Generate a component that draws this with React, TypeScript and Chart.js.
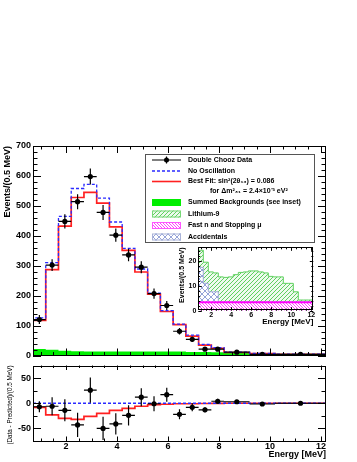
import React, { useEffect, useRef } from 'react';
import { Chart, registerables } from 'chart.js';
Chart.register(...registerables);

const FONT = '"Liberation Sans", Arial, Helvetica, sans-serif';

// ---- main spectrum (Events / 0.5 MeV) ----
const binEdges = [0.7, 1.2, 1.7, 2.2, 2.7, 3.2, 3.7, 4.2, 4.7, 5.2, 5.7, 6.2, 6.7, 7.2, 7.7, 8.2, 9.2, 10.2, 12.2];
const dataValues = [120, 302, 448, 514, 598, 478, 402, 336, 295, 207, 167, 81, 54, 21, 21, 11, 4, 4];
const dataErrors = [15, 20, 24, 25, 27, 25, 22, 21, 20, 17, 15, 11, 9, 6, 6, 4, 3, 2];
const noOscillation = [126, 310, 465, 558, 572, 526, 446, 358, 289, 208, 150, 105, 68, 37, 26, 11, 7, 4.5];
const bestFit = [117, 287, 432, 528, 545, 509, 430, 351, 279, 205, 147, 103, 65, 35, 24, 10, 6.6, 4];
const summedBackgrounds = [22, 19, 16, 14, 13, 13, 13, 13, 13, 13, 13, 13, 12, 12, 11, 10, 8, 6];

// ---- residuals ----
const residuals = [-7, -6, -14, -43, 26, -50, -41, -24, 12, -1, 17, -22, -8, -13, 4, 3, -1.5, 0];
const residualErrors = [11, 18, 22, 24, 25, 23, 21, 20, 18, 15, 14, 10, 8, 5, 5, 3, 2, 2];
const bestFitResidual = [-8, -23, -30, -32, -26, -20, -14, -10, -6, -3, -2, -1, -1, -0.5, -0.3, 0, 0, 0];

// ---- inset backgrounds ----
const insetEdges = [0.7, 1.2, 1.7, 2.2, 2.7, 3.2, 3.7, 4.2, 4.7, 5.2, 5.7, 6.2, 6.7, 7.2, 7.7, 8.2, 8.7, 9.2, 9.7, 10.2, 10.7, 11.2, 11.7, 12.2];
const fastNeutrons = [3.4, 3.4, 3.4, 3.4, 3.4, 3.4, 3.4, 3.4, 3.4, 3.4, 3.4, 3.4, 3.4, 3.4, 3.4, 3.4, 3.4, 3.4, 3.4, 3.4, 3.4, 3.4, 3.4];
const accidentals = [14, 7.6, 4.2, 4.2, 0, 0, 0, 0, 0, 0, 0, 0, 0, 0, 0, 0, 0, 0, 0, 0, 0, 0, 0];
const lithium9 = [6.9, 8.5, 8.0, 7.6, 10.2, 10.0, 10.2, 11.1, 12.0, 12.2, 12.6, 12.6, 12.2, 11.8, 10.4, 10.2, 10.2, 7.6, 7.6, 4.2, 0.9, 0.9, 0.9];

// ---- axis ticks ----
const energyTicks = [2, 4, 6, 8, 10, 12];
const mainYTicks = [0, 100, 200, 300, 400, 500, 600, 700];
const residualYTicks = [-50, 0, 50];
const insetYTicks = [0, 10, 20];

const binCenters = binEdges.slice(0, -1).map((e, i) => (e + binEdges[i + 1]) / 2);

function stepPoints(edges: number[], values: number[], fromZero = false) {
  const pts: { x: number; y: number }[] = [];
  if (fromZero) pts.push({ x: edges[0], y: 0 });
  values.forEach((v, i) => pts.push({ x: edges[i], y: v }));
  pts.push({ x: edges[edges.length - 1], y: values[values.length - 1] });
  return pts;
}

function hatch(kind: string, color: string, size: number, bg = '#fff', lw = 1) {
  const c = document.createElement('canvas');
  c.width = size; c.height = size;
  const g = c.getContext('2d')!;
  g.fillStyle = bg;
  g.fillRect(0, 0, size, size);
  g.strokeStyle = color;
  g.lineWidth = lw;
  g.beginPath();
  if (kind === 'fwd' || kind === 'cross') {
    g.moveTo(-1, size + 1); g.lineTo(size + 1, -1);
    g.moveTo(-1, 1); g.lineTo(1, -1);
    g.moveTo(size - 1, size + 1); g.lineTo(size + 1, size - 1);
  }
  if (kind === 'back' || kind === 'cross') {
    g.moveTo(-1, -1); g.lineTo(size + 1, size + 1);
    g.moveTo(size - 1, -1); g.lineTo(size + 1, 1);
    g.moveTo(-1, size - 1); g.lineTo(1, size + 1);
  }
  g.stroke();
  return g.createPattern(c, 'repeat')!;
}

const ticksOf = (arr: number[]) => (s: any) => { s.ticks = arr.map((v) => ({ value: v })); };

const rootFrame = {
  id: 'rootFrame',
  afterDraw(chart: any, _a: any, o: any) {
    const { ctx, chartArea: a, scales } = chart;
    const xs = scales.x, ys = scales.y;
    const vals = (min: number, max: number, step: number) => {
      const out: number[] = [];
      const k0 = Math.ceil(min / step - 1e-9), k1 = Math.floor(max / step + 1e-9);
      for (let k = k0; k <= k1; k++) out.push(k * step);
      return out;
    };
    const isMajor = (v: number, m: number) => Math.abs(v / m - Math.round(v / m)) < 1e-6;
    ctx.save();
    ctx.strokeStyle = '#000';
    ctx.lineWidth = 1;
    ctx.beginPath();
    for (const v of vals(xs.min, xs.max, o.xMinor)) {
      const len = isMajor(v, o.xMajor) ? o.xMajorLen : o.xMinorLen;
      const px = Math.round(xs.getPixelForValue(v)) + 0.5;
      ctx.moveTo(px, a.bottom); ctx.lineTo(px, a.bottom - len);
      ctx.moveTo(px, a.top); ctx.lineTo(px, a.top + len);
    }
    for (const v of vals(ys.min, ys.max, o.yMinor)) {
      const len = isMajor(v, o.yMajor) ? o.yMajorLen : o.yMinorLen;
      const py = Math.round(ys.getPixelForValue(v)) + 0.5;
      ctx.moveTo(a.left, py); ctx.lineTo(a.left + len, py);
      ctx.moveTo(a.right, py); ctx.lineTo(a.right - len, py);
    }
    ctx.stroke();
    ctx.strokeRect(Math.round(a.left) + 0.5, Math.round(a.top) + 0.5, Math.round(a.right - a.left) - 1, Math.round(a.bottom - a.top) - 1);
    ctx.restore();
  },
};

const whiteArea = {
  id: 'whiteArea',
  beforeDraw(chart: any, _a: any, o: any) {
    if (!o || !o.enabled) return;
    const { ctx, chartArea: a } = chart;
    ctx.save();
    ctx.fillStyle = '#fff';
    ctx.fillRect(a.left, a.top, a.right - a.left, a.bottom - a.top);
    ctx.restore();
  },
};

const errorBars = {
  id: 'errorBars',
  afterDatasetsDraw(chart: any, _a: any, o: any) {
    if (!o || !o.values) return;
    const { ctx, chartArea: a, scales } = chart;
    const x = scales.x, y = scales.y;
    ctx.save();
    ctx.beginPath();
    ctx.rect(a.left, a.top, a.right - a.left, a.bottom - a.top);
    ctx.clip();
    ctx.strokeStyle = '#000';
    ctx.lineWidth = 1.2;
    ctx.beginPath();
    o.values.forEach((v: number, i: number) => {
      const px = x.getPixelForValue(o.centers[i]);
      const py = y.getPixelForValue(v);
      ctx.moveTo(x.getPixelForValue(o.xLow[i]), py);
      ctx.lineTo(x.getPixelForValue(o.xHigh[i]), py);
      ctx.moveTo(px, y.getPixelForValue(v - o.yErr[i]));
      ctx.lineTo(px, y.getPixelForValue(v + o.yErr[i]));
    });
    ctx.stroke();
    ctx.restore();
  },
};

function makeLegend(pats: { li9: CanvasPattern; fast: CanvasPattern; acc: CanvasPattern }) {
  return {
    id: 'rootLegend',
    afterDraw(chart: any) {
      const ctx = chart.ctx as CanvasRenderingContext2D;
      const bx = 145, by = 154, bw = 169, bh = 88;
      ctx.save();
      ctx.fillStyle = '#fff';
      ctx.fillRect(bx, by, bw, bh);
      ctx.strokeStyle = '#555';
      ctx.lineWidth = 1;
      ctx.strokeRect(bx + 0.5, by + 0.5, bw, bh);
      const sx0 = 152, sx1 = 181, tx = 188;
      const rows = [160, 171, 181.5, 191.5, 202.5, 214, 225.5, 237];
      ctx.strokeStyle = '#000';
      ctx.lineWidth = 1.2;
      ctx.beginPath();
      ctx.moveTo(sx0, rows[0]); ctx.lineTo(sx1, rows[0]);
      ctx.moveTo(166.5, rows[0] - 3.5); ctx.lineTo(166.5, rows[0] + 3.5);
      ctx.stroke();
      ctx.fillStyle = '#000';
      ctx.beginPath(); ctx.arc(166.5, rows[0], 2.5, 0, Math.PI * 2); ctx.fill();
      ctx.strokeStyle = '#2a2aff'; ctx.lineWidth = 1.3; ctx.setLineDash([3, 2]);
      ctx.beginPath(); ctx.moveTo(sx0, rows[1]); ctx.lineTo(sx1, rows[1]); ctx.stroke();
      ctx.setLineDash([]);
      ctx.strokeStyle = '#ff2020'; ctx.lineWidth = 1.6;
      ctx.beginPath(); ctx.moveTo(sx0, rows[2]); ctx.lineTo(sx1, rows[2]); ctx.stroke();
      const box = (cy: number, fill: any, stroke: string | null) => {
        ctx.fillStyle = fill;
        ctx.fillRect(sx0, cy - 3.5, sx1 - sx0, 7);
        if (stroke) { ctx.strokeStyle = stroke; ctx.lineWidth = 1; ctx.strokeRect(sx0 + 0.5, cy - 3.5 + 0.5, sx1 - sx0 - 1, 6); }
      };
      box(rows[4], '#00ee00', null);
      box(rows[5], pats.li9, '#77d877');
      box(rows[6], pats.fast, '#ff55ff');
      box(rows[7], pats.acc, '#aab3d8');
      ctx.fillStyle = '#000';
      ctx.font = 'bold 7px ' + FONT;
      ctx.textBaseline = 'middle';
      ctx.textAlign = 'left';
      ctx.fillText('Double Chooz Data', tx, rows[0]);
      ctx.fillText('No Oscillation', tx, rows[1]);
      ctx.fillText('Best Fit: sin\u00b2(2\u03b8\u2081\u2083) = 0.086', tx, rows[2]);
      ctx.fillText('for \u0394m\u00b2\u2083\u2081 = 2.4\u00d710\u207b\u00b3 eV\u00b2', 210, rows[3]);
      ctx.fillText('Summed Backgrounds (see inset)', tx, rows[4]);
      ctx.fillText('Lithium-9', tx, rows[5]);
      ctx.fillText('Fast n and Stopping \u03bc', tx, rows[6]);
      ctx.fillText('Accidentals', tx, rows[7]);
      ctx.restore();
    },
  };
}

const baseOpts = {
  responsive: false,
  maintainAspectRatio: false,
  animation: false as const,
  events: [] as any[],
};
const noGrid = { display: false, drawTicks: false, tickLength: 0 };

export default function App() {
  const topRef = useRef<HTMLCanvasElement>(null);
  const botRef = useRef<HTMLCanvasElement>(null);
  const insRef = useRef<HTMLCanvasElement>(null);

  useEffect(() => {
    Chart.defaults.font.family = FONT;
    Chart.defaults.color = '#000';
    const pats = {
      li9: hatch('fwd', '#5fd05f', 4, '#eefaee'),
      fast: hatch('back', '#ff44ff', 3),
      acc: hatch('cross', '#95a3d8', 6),
    };
    const tickFont = { size: 9, weight: 'bold' as const, family: FONT, lineHeight: 1 };

    const top = new Chart(topRef.current!, {
      type: 'line',
      data: {
        datasets: [
          {
            label: 'Double Chooz Data',
            data: binCenters.map((x, i) => ({ x, y: dataValues[i] })),
            showLine: false, pointRadius: 2.6, pointBackgroundColor: '#000', pointBorderWidth: 0,
          },
          {
            label: 'No Oscillation', data: stepPoints(binEdges, noOscillation, true), stepped: 'before',
            borderColor: '#2a2aff', borderWidth: 1.3, borderDash: [3, 2], pointRadius: 0, fill: false,
          },
          {
            label: 'Best Fit', data: stepPoints(binEdges, bestFit, true), stepped: 'before',
            borderColor: '#ff2020', borderWidth: 1.7, pointRadius: 0, fill: false,
          },
          {
            label: 'Summed Backgrounds', data: stepPoints(binEdges, summedBackgrounds), stepped: 'before',
            borderWidth: 0, borderColor: 'rgba(0,0,0,0)', backgroundColor: '#00ee00', fill: 'origin', pointRadius: 0,
          },
        ] as any,
      },
      options: {
        ...baseOpts,
        layout: { padding: { left: 0, right: 31, top: 146, bottom: 3 } },
        scales: {
          x: { type: 'linear', min: 0.7, max: 12.2, display: false },
          y: {
            type: 'linear', min: 0, max: 700,
            afterBuildTicks: ticksOf(mainYTicks),
            afterFit: (s: any) => { s.width = 33; },
            grid: noGrid, border: { display: false },
            ticks: { color: '#000', font: tickFont, padding: 2, autoSkip: false },
            title: { display: true, text: 'Events/(0.5 MeV)', align: 'end', color: '#000', font: { size: 9, weight: 'bold', family: FONT }, padding: { top: 2, bottom: 0 } },
          },
        },
        plugins: {
          legend: { display: false }, tooltip: { enabled: false },
          rootFrame: { xMinor: 0.5, xMajor: 2, yMinor: 20, yMajor: 100, xMajorLen: 7, xMinorLen: 3.5, yMajorLen: 8, yMinorLen: 4.5 },
          errorBars: { values: dataValues, yErr: dataErrors, centers: binCenters, xLow: binEdges.slice(0, -1), xHigh: binEdges.slice(1) },
        } as any,
      },
      plugins: [rootFrame, errorBars, makeLegend(pats)],
    });

    const bot = new Chart(botRef.current!, {
      type: 'line',
      data: {
        datasets: [
          {
            label: 'Data - Predicted',
            data: binCenters.map((x, i) => ({ x, y: residuals[i] })),
            showLine: false, pointRadius: 2.6, pointBackgroundColor: '#000', pointBorderWidth: 0,
          },
          {
            label: 'No Oscillation', data: [{ x: binEdges[0], y: 0 }, { x: binEdges[binEdges.length - 1], y: 0 }],
            borderColor: '#2a2aff', borderWidth: 1.3, borderDash: [3, 2], pointRadius: 0, fill: false,
          },
          {
            label: 'Best Fit', data: stepPoints(binEdges, bestFitResidual), stepped: 'before',
            borderColor: '#ff2020', borderWidth: 1.7, pointRadius: 0, fill: false,
          },
        ] as any,
      },
      options: {
        ...baseOpts,
        layout: { padding: { left: 0, right: 31, top: 2, bottom: 0 } },
        scales: {
          x: {
            type: 'linear', min: 0.7, max: 12.2,
            afterBuildTicks: ticksOf(energyTicks),
            afterFit: (s: any) => { s.height = 21; },
            grid: noGrid, border: { display: false },
            ticks: { color: '#000', font: tickFont, padding: 1, autoSkip: false, maxRotation: 0 },
            title: { display: true, text: 'Energy [MeV]', align: 'end', color: '#000', font: { size: 9, weight: 'bold', family: FONT, lineHeight: 1 }, padding: { top: 0, bottom: 3 } },
          },
          y: {
            type: 'linear', min: -75, max: 75,
            afterBuildTicks: ticksOf(residualYTicks),
            afterFit: (s: any) => { s.width = 33; },
            grid: noGrid, border: { display: false },
            ticks: { color: '#000', font: tickFont, padding: 2, autoSkip: false },
            title: { display: true, text: '(Data - Predicted)/(0.5 MeV)', align: 'end', color: '#000', font: { size: 6.3, family: FONT, lineHeight: 1 }, padding: { top: 7, bottom: 0 } },
          },
        },
        plugins: {
          legend: { display: false }, tooltip: { enabled: false },
          rootFrame: { xMinor: 0.5, xMajor: 2, yMinor: 25, yMajor: 50, xMajorLen: 4.5, xMinorLen: 2.5, yMajorLen: 8, yMinorLen: 4.5 },
          errorBars: { values: residuals, yErr: residualErrors, centers: binCenters, xLow: binEdges.slice(0, -1), xHigh: binEdges.slice(1) },
        } as any,
      },
      plugins: [rootFrame, errorBars],
    });

    const fastTop = fastNeutrons;
    const accTop = accidentals.map((v, i) => v + fastTop[i]);
    const li9Top = lithium9.map((v, i) => v + accTop[i]);
    const insFont = { size: 7, weight: 'bold' as const, family: FONT, lineHeight: 1 };

    const ins = new Chart(insRef.current!, {
      type: 'line',
      data: {
        datasets: [
          {
            label: 'Fast n and Stopping mu', data: stepPoints(insetEdges, fastTop), stepped: 'before',
            borderColor: '#ff00ff', borderWidth: 2, backgroundColor: pats.fast, fill: 'origin', pointRadius: 0,
          },
          {
            label: 'Accidentals', data: stepPoints(insetEdges, accTop), stepped: 'before',
            borderColor: '#8f9bd0', borderWidth: 0.8, backgroundColor: pats.acc, fill: 0, pointRadius: 0,
          },
          {
            label: 'Lithium-9', data: stepPoints(insetEdges, li9Top), stepped: 'before',
            borderColor: '#5fd05f', borderWidth: 1, backgroundColor: pats.li9, fill: 1, pointRadius: 0,
          },
        ] as any,
      },
      options: {
        ...baseOpts,
        layout: { padding: { left: 0, right: 4.7, top: 7.3, bottom: 0 } },
        scales: {
          x: {
            type: 'linear', min: 0.7, max: 12.2,
            afterBuildTicks: ticksOf(energyTicks),
            afterFit: (s: any) => { s.height = 19.3; },
            grid: noGrid, border: { display: false },
            ticks: { color: '#000', font: insFont, padding: 1, autoSkip: false, maxRotation: 0 },
            title: { display: true, text: 'Energy [MeV]', align: 'end', color: '#000', font: { size: 8, weight: 'bold', family: FONT, lineHeight: 1 }, padding: { top: 0, bottom: 4 } },
          },
          y: {
            type: 'linear', min: 0, max: 25.5,
            afterBuildTicks: ticksOf(insetYTicks),
            afterFit: (s: any) => { s.width = 20.3; },
            grid: noGrid, border: { display: false },
            ticks: { color: '#000', font: insFont, padding: 2, autoSkip: false },
            title: { display: true, text: 'Events/(0.5 MeV)', align: 'end', color: '#000', font: { size: 7, weight: 'bold', family: FONT, lineHeight: 1 }, padding: { top: 1, bottom: 0 } },
          },
        },
        plugins: {
          legend: { display: false }, tooltip: { enabled: false },
          filler: { drawTime: 'beforeDatasetsDraw' },
          whiteArea: { enabled: true },
          rootFrame: { xMinor: 0.5, xMajor: 2, yMinor: 2, yMajor: 10, xMajorLen: 3.5, xMinorLen: 2, yMajorLen: 3.5, yMinorLen: 2 },
        } as any,
      },
      plugins: [whiteArea, rootFrame],
    });

    return () => { top.destroy(); bot.destroy(); ins.destroy(); };
  }, []);

  return (
    <div style={{ position: 'absolute', left: 0, top: 0, width: 357, height: 462, background: '#fff', overflow: 'hidden' }}>
      <canvas ref={topRef} width={357} height={362} style={{ position: 'absolute', left: 0, top: 0 }} />
      <canvas ref={botRef} width={357} height={103} style={{ position: 'absolute', left: 0, top: 359 }} />
      <canvas ref={insRef} width={140} height={90} style={{ position: 'absolute', left: 178, top: 240 }} />
    </div>
  );
}
